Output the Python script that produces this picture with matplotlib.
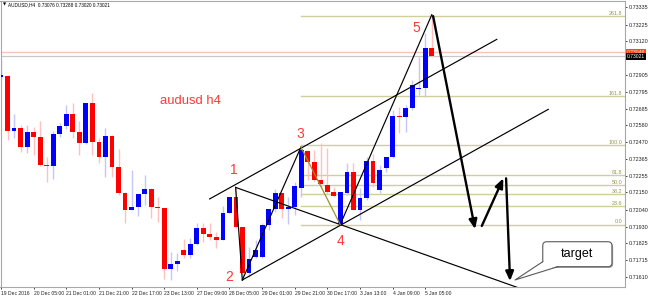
import numpy as np
import matplotlib.pyplot as plt
from matplotlib.patches import FancyBboxPatch, Polygon
from matplotlib.transforms import IdentityTransform

plt.rcParams['font.family'] = ['Liberation Sans', 'DejaVu Sans']

# AUDUSD H4 candles
opens = [0.72892, 0.72898, 0.72543, 0.72562, 0.72440, 0.72536, 0.72505, 0.72325, 0.72319, 0.72524,
         0.72575, 0.72652, 0.72536, 0.72466, 0.72722, 0.72473, 0.72376, 0.72511, 0.72312, 0.72146,
         0.72037, 0.72056, 0.72140, 0.72172, 0.72056, 0.72050, 0.71659, 0.71691, 0.71781, 0.71749,
         0.71819, 0.71922, 0.71883, 0.71864, 0.71845, 0.72018, 0.72120, 0.71928, 0.71634, 0.71736,
         0.71736, 0.71941, 0.72043, 0.72146, 0.72043, 0.72056, 0.72178, 0.72415, 0.72344, 0.72229,
         0.72197, 0.72152, 0.71947, 0.72146, 0.72280, 0.72037, 0.72114, 0.72351, 0.72165, 0.72306,
         0.72376, 0.72639, 0.72633, 0.72690, 0.72812, 0.72818, 0.73076]
highs = [0.72998, 0.72901, 0.72652, 0.72581, 0.72581, 0.72569, 0.72607, 0.72376, 0.72543, 0.72594,
         0.72709, 0.72722, 0.72607, 0.72724, 0.72786, 0.72498, 0.72562, 0.72515, 0.72428, 0.72150,
         0.72293, 0.72142, 0.72261, 0.72175, 0.72120, 0.72052, 0.71768, 0.71762, 0.71851, 0.71858,
         0.71954, 0.71954, 0.71954, 0.71896, 0.72063, 0.72123, 0.72184, 0.71930, 0.71800, 0.71845,
         0.71954, 0.72043, 0.72172, 0.72148, 0.72120, 0.72216, 0.72453, 0.72421, 0.72421, 0.72466,
         0.72434, 0.72184, 0.72155, 0.72338, 0.72338, 0.72178, 0.72376, 0.72396, 0.72325, 0.72379,
         0.72677, 0.72697, 0.72709, 0.72869, 0.73017, 0.73170, 0.73288]
lows = [0.72869, 0.72485, 0.72498, 0.72408, 0.72402, 0.72389, 0.72322, 0.72216, 0.72236, 0.72505,
        0.72556, 0.72498, 0.72389, 0.72460, 0.72389, 0.72338, 0.72248, 0.72248, 0.72133, 0.71954,
        0.72034, 0.71999, 0.72069, 0.71986, 0.71960, 0.71595, 0.71589, 0.71647, 0.71730, 0.71730,
        0.71815, 0.71832, 0.71845, 0.71794, 0.71842, 0.72015, 0.71925, 0.71589, 0.71608, 0.71730,
        0.71730, 0.71909, 0.72024, 0.71986, 0.71947, 0.72005, 0.72120, 0.72229, 0.72226, 0.72184,
        0.72140, 0.72120, 0.71944, 0.72133, 0.72034, 0.71973, 0.72101, 0.72184, 0.72146, 0.72280,
        0.72370, 0.72530, 0.72536, 0.72677, 0.72773, 0.72761, 0.73020]
closes = [0.72898, 0.72543, 0.72562, 0.72440, 0.72536, 0.72505, 0.72325, 0.72319, 0.72524, 0.72575,
          0.72652, 0.72536, 0.72466, 0.72722, 0.72473, 0.72376, 0.72511, 0.72312, 0.72146, 0.72037,
          0.72056, 0.72140, 0.72172, 0.72056, 0.72050, 0.71659, 0.71691, 0.71711, 0.71749, 0.71819,
          0.71922, 0.71883, 0.71864, 0.71845, 0.72018, 0.72120, 0.71928, 0.71634, 0.71723, 0.71781,
          0.71941, 0.72043, 0.72146, 0.72043, 0.72056, 0.72191, 0.72421, 0.72344, 0.72229, 0.72204,
          0.72152, 0.72127, 0.72152, 0.72280, 0.72037, 0.72114, 0.72351, 0.72210, 0.72293, 0.72376,
          0.72639, 0.72633, 0.72690, 0.72837, 0.72818, 0.73074, 0.73021]

date_labels = ["19 Dec 2016", "20 Dec 05:00", "21 Dec 01:00", "21 Dec 21:00", "22 Dec 17:00",
               "23 Dec 13:00", "27 Dec 09:00", "28 Dec 05:00", "29 Dec 01:00", "29 Dec 21:00",
               "30 Dec 17:00", "3 Jan 13:00", "4 Jan 09:00", "5 Jan 05:00"]
price_ticks = [0.73335, 0.73225, 0.73120, 0.72905, 0.72795, 0.72685, 0.72580, 0.72470,
               0.72365, 0.72255, 0.72150, 0.72040, 0.71930, 0.71825, 0.71715, 0.71610]

bid, ask = 0.73021, 0.73046

# fibonacci expansion between wave 3 high and wave 4 low
fib_levels = [0.0, 23.6, 38.2, 50.0, 61.8, 100.0, 161.8, 261.8]
fib_start = 46

# hand drawn lines: (bar0, price0, bar1, price1)
trend_lines = [
    (31.96, 0.72108, 75.95, 0.73130),
    (36.97, 0.71589, 83.85, 0.72682),
    (35.94, 0.72182, 79.80, 0.71531),
    (35.94, 0.72182, 36.97, 0.71589),
    (36.97, 0.71589, 45.95, 0.72440),
    (51.97, 0.71944, 66.00, 0.73288),
]
wave34_line = (45.95, 0.72440, 51.97, 0.71944)
proj_arrows = [
    (66.2, 0.73279, 72.63, 0.71915),
    (73.66, 0.71935, 76.96, 0.72240),
    (77.38, 0.72240, 77.99, 0.71582),
]
wave_labels = ["1", "2", "3", "4", "5"]
wave_x = [35.74, 34.98, 45.85, 52.07, 63.65]
wave_y = [0.72293, 0.71610, 0.72527, 0.71839, 0.73204]

target_box = (83.0, 0.71674, 93.6, 0.71834)
target_tip = (78.75, 0.71589)

fig = plt.figure(figsize=(6.48, 2.96), dpi=100)
ax = fig.add_axes([0.5 / 648, 9 / 296, 624.5 / 648, 286.5 / 296])
ax.set_xlim(-0.08, 95.6)
ax.set_ylim(0.71544, 0.73379)

# candles
o, h, l, c = map(np.array, (opens, highs, lows, closes))
x = np.arange(len(o))
up = c >= o
ax.vlines(x, l, h, colors=np.where(up, "#c6c6ff", "#ffc0c0"), lw=1.0, zorder=2)
ax.bar(x, np.maximum(np.abs(c - o), 0.00007), bottom=np.minimum(o, c), width=0.74,
       color=np.where(up, "#0000ff", "#ff0000"), lw=0, zorder=3)

# bid / ask lines
ax.axhline(ask, color="#f6c4b4", lw=1.0, zorder=1)
ax.axhline(bid, color="#c8c8c8", lw=0.9, zorder=1)

# fibo levels
p0 = l[52]
p100 = h[46]
for lvl in fib_levels:
    yv = p0 + (p100 - p0) * lvl / 100
    ax.plot([fib_start, 96], [yv, yv], color="#cfcf9c", lw=1.0, zorder=1)
    ax.text(95.15, yv + 0.00001, "%.1f" % lvl, ha="right", va="bottom", fontsize=3.9,
            color="#96964a", zorder=1)

# trend lines
for x0, y0, x1, y1 in trend_lines:
    ax.plot([x0, x1], [y0, y1], color="black", lw=0.85, zorder=5)
ax.plot(wave34_line[0::2], wave34_line[1::2], color="#9c9030", lw=0.9, zorder=5)

for x0, y0, x1, y1 in proj_arrows:
    ax.annotate("", xy=(x1, y1), xytext=(x0, y0),
                arrowprops=dict(arrowstyle="-|>,head_length=0.7,head_width=0.3", lw=1.7,
                                color="black", shrinkA=0, shrinkB=0, mutation_scale=8),
                zorder=6)

for t, wx, wy in zip(wave_labels, wave_x, wave_y):
    ax.text(wx, wy, t, color="#ff3838", fontsize=10, ha="center", va="center", zorder=6)

ax.text(29.08, 0.72735, "audusd h4", color="#ff3838", fontsize=9.4, ha="center", va="center")

# target callout, drawn in pixels so the corners stay round
(bx0, by0), (bx1, by1) = ax.transData.transform([target_box[:2], target_box[2:]])
tx, ty = ax.transData.transform([target_tip])[0]
bw, bh = bx1 - bx0, by1 - by0
ax.add_patch(FancyBboxPatch((bx0 + 1.2, by0 - 1.2), bw, bh, boxstyle="round,pad=0,rounding_size=4",
                            transform=IdentityTransform(), fc="#a0a0a0", ec="none", zorder=7))
ax.add_patch(FancyBboxPatch((bx0, by0), bw, bh, boxstyle="round,pad=0,rounding_size=4",
                            transform=IdentityTransform(), fc="white", ec="#5a5a5a", lw=0.8, zorder=8))
b1 = (bx0, by0 + 5)
b2 = (bx0 + 15, by0)
ax.add_patch(Polygon([(b1[0] + 0.7, b1[1]), (tx, ty), (b2[0], b2[1] + 0.7)], closed=True,
                     transform=IdentityTransform(), fc="white", ec="none", zorder=9))
ax.plot([b1[0], tx, b2[0]], [b1[1], ty, b2[1]], color="#5a5a5a", lw=0.8,
        transform=IdentityTransform(), zorder=9)
ax.text((target_box[0] + target_box[2]) / 2, (target_box[1] + target_box[3]) / 2, "target",
        fontsize=9, ha="center", va="center", zorder=10)

# axes like the terminal
for s in ax.spines.values():
    s.set_color("#a8a8a8")
    s.set_linewidth(0.8)
ax.yaxis.tick_right()
ax.set_yticks(price_ticks)
ax.set_yticklabels(["%.5f" % p for p in price_ticks])
ax.tick_params(axis="y", length=1.5, width=0.6, pad=1, labelsize=3.9, colors="#222222")
ax.set_xticks(np.arange(0, 5 * len(date_labels), 5))
ax.set_xticklabels(date_labels)
ax.tick_params(axis="x", length=1.5, width=0.6, pad=1.2, labelsize=3.6, colors="#222222")
for lab in ax.get_xticklabels():
    lab.set_ha("left")

yax = ax.get_yaxis_transform()
ax.text(1.003, ask, "0.73046", transform=yax, fontsize=3.6, color="#ffd8c8", va="center",
        ha="left", bbox=dict(boxstyle="square,pad=0.15", fc="#ff4a10", ec="none"), clip_on=False)
ax.text(1.003, bid, "0.73021", transform=yax, fontsize=3.6, color="white", va="center",
        ha="left", bbox=dict(boxstyle="square,pad=0.15", fc="black", ec="none"), clip_on=False)

ax.text(0.004, 0.986, "\u25bc", transform=ax.transAxes, fontsize=3, family="DejaVu Sans",
        va="center", ha="left")
ax.text(0.012, 0.986, "AUDUSD,H4  0.73076 0.73288 0.73020 0.73021", transform=ax.transAxes,
        fontsize=3.4, va="center", ha="left")

fig.savefig("out.png", dpi=100)
